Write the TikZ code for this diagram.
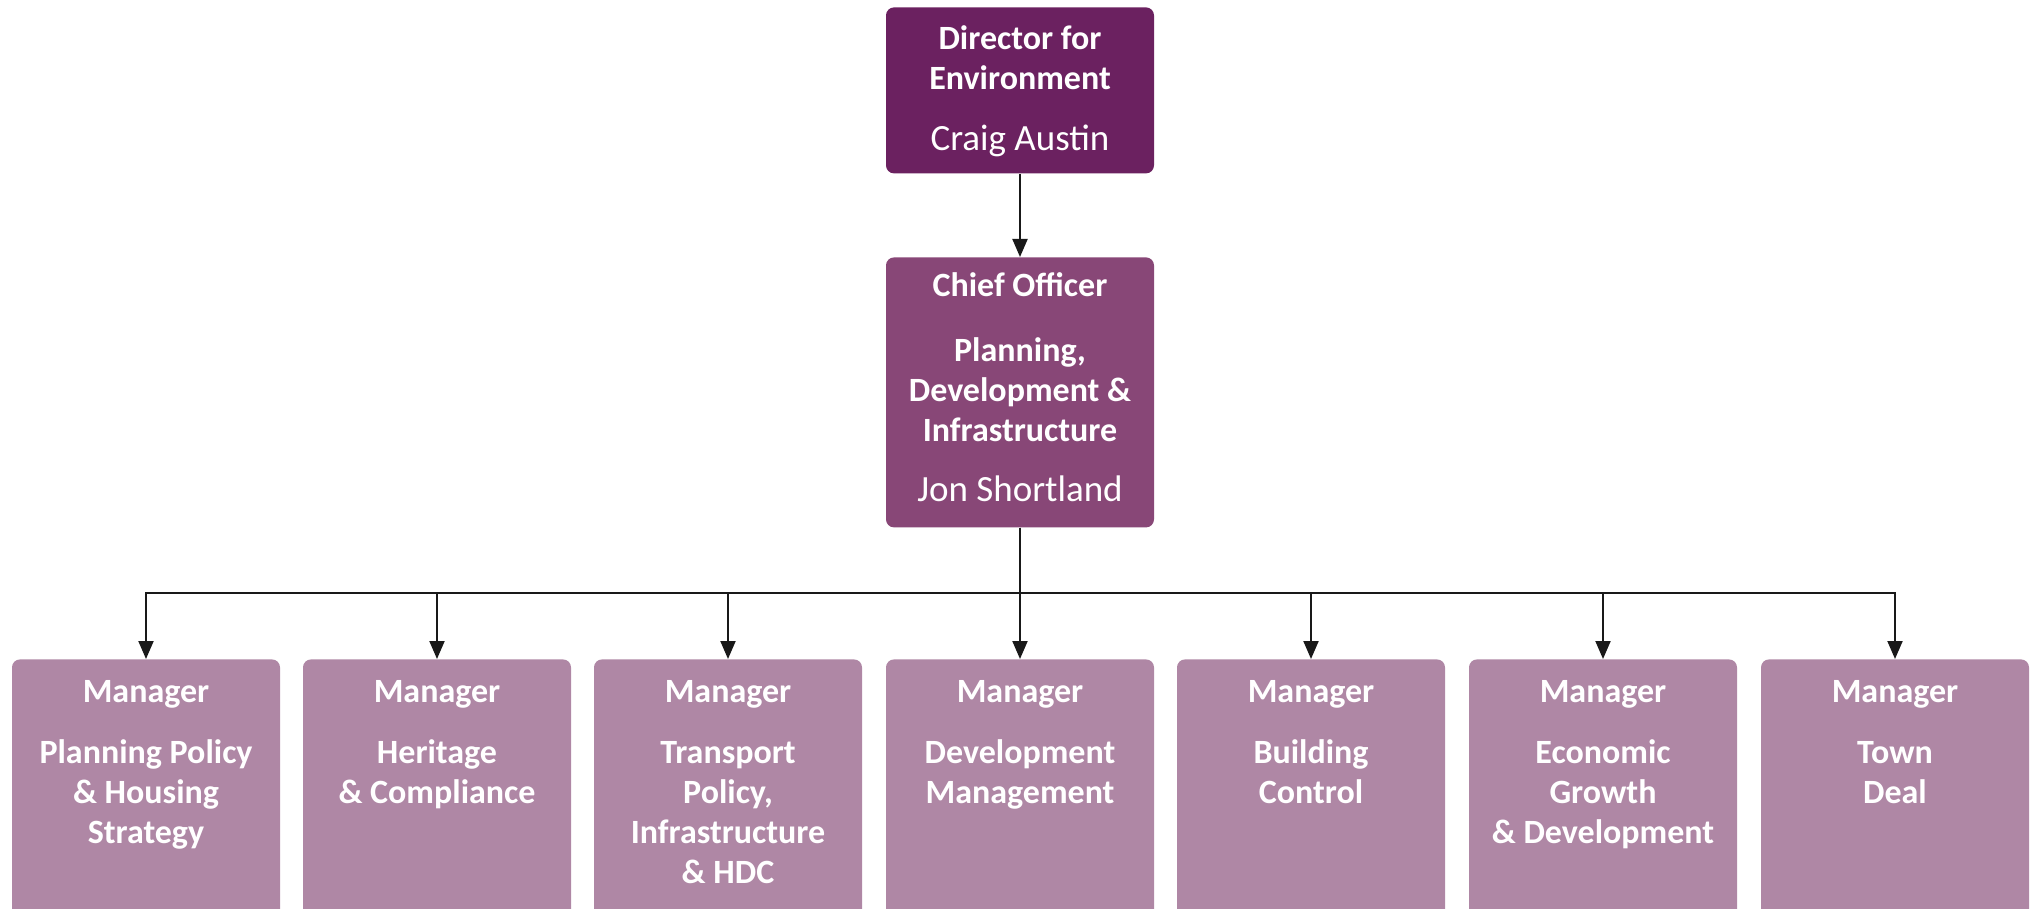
\documentclass[tikz,border=0pt]{standalone}
\usepackage{fontspec}
\setmainfont{Carlito}
\usetikzlibrary{arrows.meta}
\definecolor{dirpurple}{HTML}{6B2160}
\definecolor{chiefpurple}{HTML}{884777}
\definecolor{mgrpurple}{HTML}{AF87A5}
\newcommand{\holder}{\fontsize{18.5}{20}\selectfont\mdseries}
\tikzset{
  box/.style={rounded corners=4pt, minimum width=134pt, inner sep=0pt, anchor=north},
  lbl/.style={text=white, text width=130pt, align=flush center, anchor=base, inner sep=0pt,
              font=\fontsize{17}{20}\selectfont\bfseries},
  link/.style={draw=black!90, line width=1pt},
  arr/.style={link, -{Triangle[length=9pt,width=7.5pt]}}
}
\begin{document}
\begin{tikzpicture}[x=0.5pt,y=-0.5pt]
\useasboundingbox (0,0) rectangle (2035,909);

% director
\node[box, fill=dirpurple, minimum height=83pt] (dir) at (1020,7) {};
\node[lbl] (dirt) at (1020,50) {Director for\\Environment\\[10.5pt]\holder Craig Austin};

% chief officer
\node[box, fill=chiefpurple, minimum height=135pt] (chief) at (1020,257) {};
\node[lbl] (chieft) at (1020,297) {Chief Officer\\[12.5pt]Planning,\\Development \&\\Infrastructure\\[10pt]\holder Jon Shortland};

% managers
\foreach \n/\cx in {1/146,2/437,3/728,4/1020,5/1311,6/1603,7/1895}{
  \node[box, fill=mgrpurple, minimum height=130pt] (m\n) at (\cx,659) {};
}
\node[lbl] (m1t) at (m1.north |- 0,702) {Manager\\[10.5pt]Planning Policy\\\& Housing\\Strategy};
\node[lbl] (m2t) at (m2.north |- 0,702) {Manager\\[10.5pt]Heritage\\\& Compliance};
\node[lbl] (m3t) at (m3.north |- 0,702) {Manager\\[10.5pt]Transport\\Policy,\\Infrastructure\\\& HDC};
\node[lbl] (m4t) at (m4.north |- 0,702) {Manager\\[10.5pt]Development\\Management};
\node[lbl] (m5t) at (m5.north |- 0,702) {Manager\\[10.5pt]Building\\Control};
\node[lbl] (m6t) at (m6.north |- 0,702) {Manager\\[10.5pt]Economic\\Growth\\\& Development};
\node[lbl] (m7t) at (m7.north |- 0,702) {Manager\\[10.5pt]Town\\Deal};

% connectors
\coordinate (bus) at (1020,593);
\draw[arr] (dir.south) -- (chief.north);
\foreach \n in {1,...,7}{
  \draw[arr] (chief.south) -- (bus) -| (m\n.north);
}
\end{tikzpicture}
\end{document}
